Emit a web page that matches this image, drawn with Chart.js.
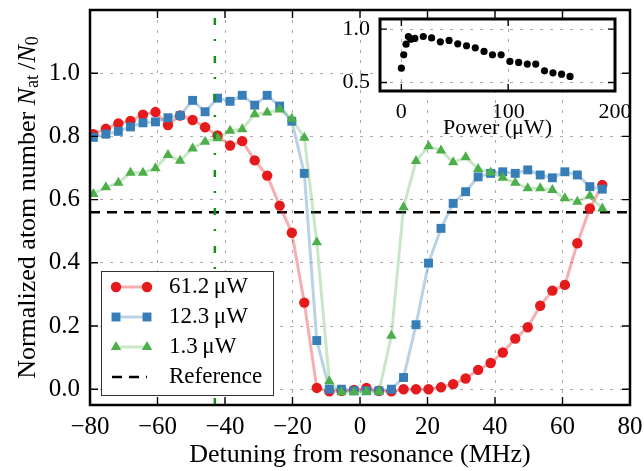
<!DOCTYPE html>
<html>
<head>
<meta charset="utf-8">
<script src="https://cdn.jsdelivr.net/npm/chart.js@4.4.1/dist/chart.umd.min.js"></script>
<style>
  html, body { margin: 0; padding: 0; background: #fff; }
  #wrap { position: relative; width: 644px; height: 471px; }
  canvas { position: absolute; left: 0; top: 0; }
</style>
</head>
<body>
<div id="wrap">
  <canvas id="main" width="644" height="471"></canvas>
  <canvas id="inset" width="644" height="471"></canvas>
</div>
<script>
// detuning (MHz) shared by the three scans
const detuning = [-79.0, -75.3, -71.6, -68.0, -64.3, -60.6, -56.9, -53.3, -49.6, -45.9,
  -42.2, -38.5, -34.9, -31.2, -27.5, -23.8, -20.2, -16.5, -12.8, -9.1,
  -5.5, -1.8, 1.9, 5.6, 9.3, 12.9, 16.6, 20.3, 24.0, 27.6,
  31.3, 35.0, 38.7, 42.3, 46.0, 49.7, 53.4, 57.0, 60.7, 64.4, 68.1, 71.8];

const atoms61 = [0.807, 0.824, 0.841, 0.849, 0.869, 0.877, 0.836, 0.866, 0.852, 0.829,
  0.803, 0.771, 0.785, 0.724, 0.676, 0.581, 0.495, 0.274, 0.004, -0.007,
  -0.005, -0.002, 0.004, -0.005, -0.007, 0.0, 0.0, 0.0, 0.006, 0.016,
  0.034, 0.061, 0.083, 0.116, 0.160, 0.196, 0.264, 0.312, 0.330, 0.462, 0.572, 0.646];

const atoms12 = [0.797, 0.807, 0.816, 0.830, 0.843, 0.846, 0.859, 0.866, 0.914, 0.878,
  0.921, 0.911, 0.930, 0.899, 0.930, 0.896, 0.848, 0.683, 0.154, 0.0,
  0.0, -0.005, -0.005, -0.005, 0.0, 0.037, 0.204, 0.399, 0.509, 0.588,
  0.625, 0.672, 0.683, 0.688, 0.683, 0.694, 0.678, 0.669, 0.688, 0.678, 0.641, 0.633];

const atoms1 = [0.618, 0.639, 0.653, 0.685, 0.685, 0.699, 0.741, 0.723, 0.762, 0.783,
  0.794, 0.818, 0.823, 0.870, 0.876, 0.885, 0.856, 0.796, 0.465, 0.025,
  -0.01, -0.01, -0.008, -0.008, 0.169, 0.576, 0.722, 0.769, 0.755, 0.718,
  0.734, 0.697, 0.686, 0.669, 0.653, 0.636, 0.636, 0.630, 0.604, 0.593, 0.612, 0.572];

const seriesLabels = ['61.2\u2009\u03bcW', '12.3\u2009\u03bcW', '1.3\u2009\u03bcW', 'Reference'];

const refSpan = [-80, 80];
const refLevel = [0.56, 0.56];
const markerX = [-43, -43];
const markerY = [-0.05, 1.2];

const xTicksMain = [-80, -60, -40, -20, 0, 20, 40, 60, 80];
const yTicksMain = [0.0, 0.2, 0.4, 0.6, 0.8, 1.0];

// inset: peak atom number vs power
const power = [0, 2.2, 4.4, 6.6, 8.8, 12.6, 20.5, 28.3, 36.5, 44.7, 52.8, 61.0,
  69.2, 77.4, 85.3, 93.4, 101.6, 109.8, 117.9, 125.8, 134.0, 141.9, 150.0, 157.9];
const peakAtoms = [0.634, 0.759, 0.859, 0.931, 0.906, 0.913, 0.931, 0.918, 0.881, 0.894,
  0.862, 0.844, 0.825, 0.791, 0.759, 0.759, 0.697, 0.688, 0.672, 0.672,
  0.609, 0.590, 0.578, 0.557];
const xTicksInset = [0, 100, 200];
const yTicksInset = [0.5, 1.0];

const pts = (xs, ys) => xs.map((x, i) => ({ x: x, y: ys[i] }));
const fmt = v => (v < 0 ? '\u2212' + Math.abs(v) : String(v));

Chart.defaults.font.family = '"Liberation Serif", serif';
Chart.defaults.color = '#000';

// fixed axis box sizes, no extra label overhang padding
const fitX = h => s => { s.height = h; s.paddingLeft = 0; s.paddingRight = 0; };
const fitY = w => s => { s.width = w; s.paddingTop = 0; s.paddingBottom = 0; };

const framePlugin = {
  id: 'frame',
  beforeDraw(chart, args, opts) {
    if (!opts.fill) return;
    const a = chart.chartArea;
    chart.ctx.save();
    chart.ctx.fillStyle = '#fff';
    chart.ctx.fillRect(a.left, a.top, a.width, a.height);
    chart.ctx.restore();
  },
  afterDraw(chart, args, opts) {
    const { ctx, chartArea: a, scales } = chart;
    const L = opts.tick;
    ctx.save();
    ctx.strokeStyle = '#000';
    ctx.lineWidth = 1.4;
    ctx.beginPath();
    scales.x.ticks.forEach(t => {
      const px = scales.x.getPixelForValue(t.value);
      ctx.moveTo(px, a.bottom); ctx.lineTo(px, a.bottom - L);
      ctx.moveTo(px, a.top); ctx.lineTo(px, a.top + L);
    });
    scales.y.ticks.forEach(t => {
      const py = scales.y.getPixelForValue(t.value);
      ctx.moveTo(a.left, py); ctx.lineTo(a.left + L, py);
      ctx.moveTo(a.right, py); ctx.lineTo(a.right - L, py);
    });
    ctx.stroke();
    ctx.lineWidth = opts.width;
    ctx.strokeRect(a.left, a.top, a.width, a.height);
    ctx.restore();
  }
};

const yTitlePlugin = {
  id: 'ytitle',
  afterDraw(chart) {
    const ctx = chart.ctx;
    const a = chart.chartArea;
    const big = '26px "Liberation Serif"';
    const it = 'italic 26px "Liberation Serif"';
    const sub = '18px "Liberation Serif"';
    const parts = [
      { t: 'Normalized atom number ', f: big, dy: 0 },
      { t: 'N', f: it, dy: 0 },
      { t: 'at', f: sub, dy: 5 },
      { t: '\u2009/', f: big, dy: 0 },
      { t: 'N', f: it, dy: 0 },
      { t: '0', f: sub, dy: 5 }
    ];
    ctx.save();
    let w = 0;
    parts.forEach(p => { ctx.font = p.f; p.w = ctx.measureText(p.t).width; w += p.w; });
    ctx.translate(28, (a.top + a.bottom) / 2);
    ctx.rotate(-Math.PI / 2);
    ctx.fillStyle = '#000';
    ctx.textBaseline = 'middle';
    let x = -w / 2;
    parts.forEach(p => { ctx.font = p.f; ctx.fillText(p.t, x, p.dy); x += p.w; });
    ctx.restore();
  }
};

const legendPlugin = {
  id: 'boxlegend',
  afterDraw(chart) {
    const ctx = chart.ctx;
    const box = { x: 101, y: 271, w: 173, h: 125 };
    ctx.save();
    ctx.fillStyle = '#fff';
    ctx.strokeStyle = '#333';
    ctx.lineWidth = 1;
    ctx.fillRect(box.x, box.y, box.w, box.h);
    ctx.strokeRect(box.x + 0.5, box.y + 0.5, box.w - 1, box.h - 1);
    const rows = chart.data.datasets.filter(d => d.label);
    rows.forEach((d, i) => {
      const y = 287 + i * 30;
      const x0 = 116, x1 = 147;
      ctx.strokeStyle = d.borderColor;
      ctx.lineWidth = d.borderWidth;
      ctx.setLineDash(d.borderDash || []);
      ctx.beginPath();
      if (d.borderDash) { ctx.moveTo(x0 - 4, y); ctx.lineTo(x1, y); }
      else { ctx.moveTo(x0, y); ctx.lineTo(x1, y); }
      ctx.stroke();
      ctx.setLineDash([]);
      if (d.pointRadius > 0) {
        ctx.fillStyle = d.pointBackgroundColor;
        [x0, x1].forEach(px => Chart.helpers.drawPoint(ctx,
          { pointStyle: d.pointStyle, radius: d.pointRadius, rotation: 0, borderWidth: 0 }, px, y));
      }
      ctx.fillStyle = '#000';
      ctx.font = '23px "Liberation Serif"';
      ctx.textBaseline = 'middle';
      ctx.fillText(d.label, 169, y);
    });
    ctx.restore();
  }
};

new Chart(document.getElementById('main'), {
  type: 'scatter',
  data: {
    datasets: [
      { label: seriesLabels[0], data: pts(detuning, atoms61), showLine: true,
        borderColor: 'rgba(228,26,28,0.35)', borderWidth: 3,
        pointStyle: 'circle', pointRadius: 5.2, pointBackgroundColor: '#e41a1c', pointBorderWidth: 0, order: 3 },
      { label: seriesLabels[1], data: pts(detuning, atoms12), showLine: true,
        borderColor: 'rgba(55,126,184,0.35)', borderWidth: 3,
        pointStyle: 'rect', pointRadius: 6.3, pointBackgroundColor: '#377eb8', pointBorderWidth: 0, order: 2 },
      { label: seriesLabels[2], data: pts(detuning, atoms1), showLine: true,
        borderColor: 'rgba(77,175,74,0.3)', borderWidth: 3,
        pointStyle: 'triangle', pointRadius: 6, pointBackgroundColor: '#4daf4a', pointBorderWidth: 0, order: 1 },
      { label: seriesLabels[3], data: pts(refSpan, refLevel), showLine: true,
        borderColor: '#000', borderWidth: 2.5, borderDash: [10, 7], pointRadius: 0, order: 4 },
      { label: '', data: pts(markerX, markerY), showLine: true,
        borderColor: '#1a8c1a', borderWidth: 2.5, borderDash: [7, 15, 2, 14], pointRadius: 0, order: 0 }
    ]
  },
  options: {
    responsive: false,
    animation: false,
    devicePixelRatio: 1,
    events: [],
    layout: { padding: { left: 0, top: 10, right: 14, bottom: 0 } },
    plugins: {
      legend: { display: false },
      tooltip: { enabled: false },
      frame: { width: 2.5, tick: 8, fill: false }
    },
    scales: {
      x: {
        type: 'linear', min: -80, max: 80,
        afterBuildTicks: s => { s.ticks = xTicksMain.map(v => ({ value: v })); },
        afterFit: fitX(66),
        grid: { color: '#aaaaaa', lineWidth: 1, drawTicks: false },
        border: { display: false, dash: [3, 7] },
        ticks: { font: { size: 25 }, padding: 7, maxRotation: 0, autoSkip: false, callback: v => fmt(v) },
        title: { display: true, text: 'Detuning from resonance (MHz)', font: { size: 26 }, padding: 0 }
      },
      y: {
        type: 'linear', min: -0.05, max: 1.2,
        afterBuildTicks: s => { s.ticks = yTicksMain.map(v => ({ value: v })); },
        afterFit: fitY(90),
        grid: { color: '#aaaaaa', lineWidth: 1, drawTicks: false },
        border: { display: false, dash: [3, 7] },
        ticks: { font: { size: 25 }, padding: 10, callback: v => v.toFixed(1) }
      }
    }
  },
  plugins: [framePlugin, legendPlugin, yTitlePlugin]
});

new Chart(document.getElementById('inset'), {
  type: 'scatter',
  data: {
    datasets: [
      { label: 'peak', data: pts(power, peakAtoms), pointStyle: 'circle', pointRadius: 3.6,
        pointBackgroundColor: '#000', pointBorderWidth: 0 }
    ]
  },
  options: {
    responsive: false,
    animation: false,
    devicePixelRatio: 1,
    events: [],
    layout: { padding: { left: 340, top: 19, right: 29, bottom: 330 } },
    plugins: {
      legend: { display: false },
      tooltip: { enabled: false },
      frame: { width: 3, tick: 7, fill: true }
    },
    scales: {
      x: {
        type: 'linear', min: -20, max: 200,
        afterBuildTicks: s => { s.ticks = xTicksInset.map(v => ({ value: v })); },
        afterFit: fitX(50),
        grid: { color: '#aaaaaa', lineWidth: 1, drawTicks: false },
        border: { display: false, dash: [3, 7] },
        ticks: { font: { size: 22 }, padding: 8, maxRotation: 0, autoSkip: false },
        title: { display: true, text: 'Power (\u03bcW)', font: { size: 22 }, padding: 0 }
      },
      y: {
        type: 'linear', min: 0.42, max: 1.095,
        afterBuildTicks: s => { s.ticks = yTicksInset.map(v => ({ value: v })); },
        afterFit: fitY(40),
        grid: { color: '#aaaaaa', lineWidth: 1, drawTicks: false },
        border: { display: false, dash: [3, 7] },
        ticks: { font: { size: 22 }, padding: 10, callback: v => v.toFixed(1) }
      }
    }
  },
  plugins: [framePlugin]
});
</script>
</body>
</html>
